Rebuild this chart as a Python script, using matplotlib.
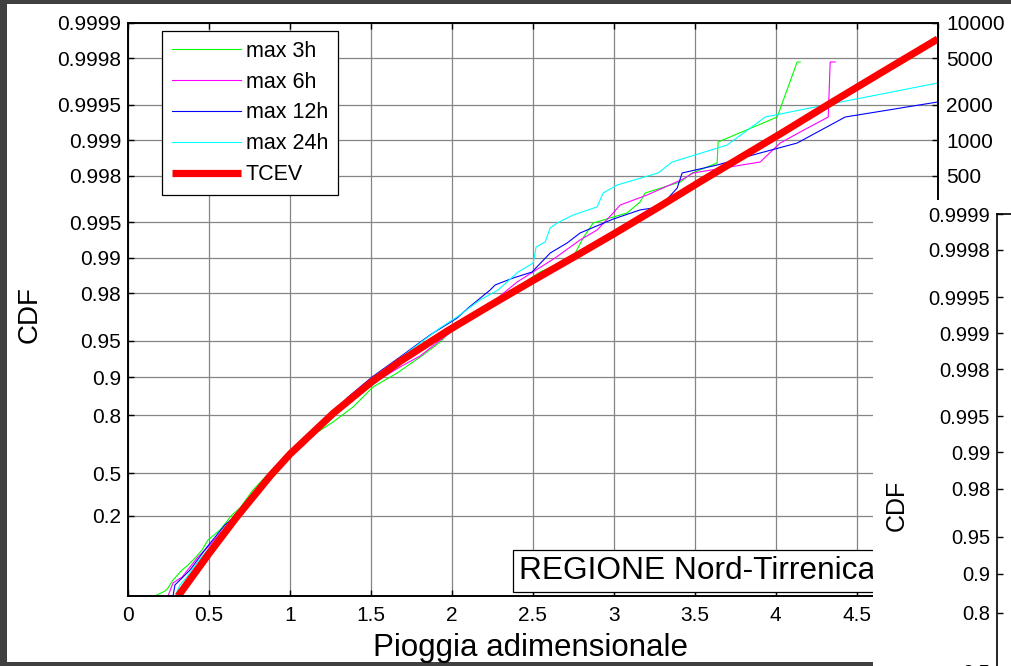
import numpy as np
import matplotlib.pyplot as plt
from matplotlib.patches import Rectangle

plt.rcParams['font.family'] = ['Liberation Sans', 'DejaVu Sans']

x_3h = [0.167, 0.229, 0.247, 0.278, 0.334, 0.371, 0.414, 0.457, 0.494, 0.568, 0.642, 0.692,
        0.772, 0.877, 0.982, 1.143, 1.266, 1.390, 1.513, 1.662, 1.822, 1.927, 2.001, 2.131,
        2.279, 2.403, 2.545, 2.749, 2.810, 2.872, 2.977, 3.082, 3.162, 3.193, 3.410, 3.484,
        3.638, 3.644, 4.009, 4.132, 4.151]
cdf_3h = [0.00043, 0.000892, 0.001334, 0.00349, 0.00956, 0.01482, 0.0254, 0.04333, 0.0759,
          0.1201, 0.2064, 0.2531, 0.3808, 0.5077, 0.6155, 0.7206, 0.7758, 0.8278, 0.8802,
          0.9076, 0.9342, 0.9487, 0.9592, 0.96945, 0.9758, 0.98226, 0.98676, 0.99013, 0.99319,
          0.99492, 0.9954, 0.99583, 0.99664, 0.99718, 0.99773, 0.998098, 0.998436, 0.998964,
          0.999366, 0.999785, 0.999785]

x_6h = [0.247, 0.278, 0.334, 0.383, 0.432, 0.506, 0.630, 0.692, 0.797, 0.889, 1.001, 1.143,
        1.266, 1.371, 1.556, 1.680, 1.804, 1.970, 2.193, 2.403, 2.637, 2.792, 2.897, 2.996,
        3.039, 3.206, 3.428, 3.490, 3.904, 4.027, 4.151, 4.324, 4.336, 4.367]
cdf_6h = [0.00043, 0.00247, 0.00483, 0.01248, 0.02732, 0.0583, 0.1635, 0.226, 0.3664, 0.5077,
          0.6271, 0.7343, 0.798, 0.8481, 0.8967, 0.9175, 0.933, 0.9551, 0.9723, 0.98392,
          0.98993, 0.99293, 0.99418, 0.99583, 0.99643, 0.99707, 0.997858, 0.998098, 0.998466,
          0.998943, 0.999149, 0.999366, 0.999785, 0.999785]

x_12h = [0.278, 0.290, 0.340, 0.383, 0.488, 0.599, 0.692, 0.797, 0.889, 1.001, 1.143, 1.266,
         1.353, 1.507, 1.680, 1.865, 2.032, 2.100, 2.236, 2.267, 2.378, 2.495, 2.607, 2.712,
         2.792, 2.996, 3.162, 3.286, 3.391, 3.422, 3.638, 3.904, 4.132, 4.429, 5.0]
cdf_12h = [0.00043, 0.00195, 0.00483, 0.00956, 0.0519, 0.1467, 0.226, 0.352, 0.5009, 0.6271,
           0.743, 0.8049, 0.8536, 0.9004, 0.9317, 0.9551, 0.9676, 0.9733, 0.98118, 0.98295,
           0.98511, 0.98676, 0.99086, 0.9925, 0.99383, 0.9953, 0.99607, 0.9963, 0.99744,
           0.998098, 0.998372, 0.998715, 0.998943, 0.999366, 0.999528]

x_24h = [0.290, 0.321, 0.364, 0.426, 0.506, 0.692, 0.797, 0.889, 1.001, 1.143, 1.266, 1.507,
         1.680, 1.804, 1.927, 2.032, 2.174, 2.285, 2.409, 2.502, 2.520, 2.576, 2.607, 2.650,
         2.749, 2.897, 2.934, 3.020, 3.274, 3.360, 3.700, 3.935, 4.151, 5.0]
cdf_24h = [0.00043, 0.00195, 0.00483, 0.0174, 0.0519, 0.226, 0.3591, 0.5009, 0.6271, 0.743,
           0.8049, 0.8986, 0.9303, 0.9477, 0.9608, 0.9683, 0.9772, 0.98118, 0.98676, 0.9889,
           0.99187, 0.99264, 0.9944, 0.99492, 0.99566, 0.9963, 0.99718, 0.99759, 0.998098,
           0.998466, 0.998901, 0.999366, 0.999448, 0.999675]

# fitted TCEV distribution
x_tcev = [0.31, 0.5, 0.67, 0.88, 1.0, 1.27, 1.5, 1.68, 1.97, 2.24, 2.5, 2.76, 3.0, 3.29,
          3.53, 3.78, 4.03, 4.34, 4.65, 5.0]
cdf_tcev = [0.00043, 0.0345, 0.1923, 0.4834, 0.6203, 0.8086, 0.8898, 0.9257, 0.9583, 0.9748,
            0.98436, 0.99023, 0.99372, 0.996376, 0.997729, 0.998587, 0.99912, 0.999519,
            0.999734, 0.999863]

cdf_ticks = [0.2, 0.5, 0.8, 0.9, 0.95, 0.98, 0.99, 0.995, 0.998, 0.999, 0.9995, 0.9998, 0.9999]
cdf_labels = ['0.2', '0.5', '0.8', '0.9', '0.95', '0.98', '0.99', '0.995', '0.998', '0.999',
              '0.9995', '0.9998', '0.9999']
return_periods = [500, 1000, 2000, 5000, 10000]
x_ticks = [0, 0.5, 1, 1.5, 2, 2.5, 3, 3.5, 4, 4.5, 5]
x_labels = ['0', '0.5', '1', '1.5', '2', '2.5', '3', '3.5', '4', '4.5', '5']

# second (overlapping) panel
cdf_ticks2 = [0.5, 0.8, 0.9, 0.95, 0.98, 0.99, 0.995, 0.998, 0.999, 0.9995, 0.9998, 0.9999]
cdf_labels2 = ['0.5', '0.8', '0.9', '0.95', '0.98', '0.99', '0.995', '0.998', '0.999',
               '0.9995', '0.9998', '0.9999']


def gumbel(p):
    p = np.clip(np.asarray(p, dtype=float), 1e-12, 1 - 1e-12)
    return -np.log(-np.log(p))


def gumbel_inv(y):
    return np.exp(-np.exp(-np.asarray(y, dtype=float)))


W, H = 1012, 666
fig = plt.figure(figsize=(W / 100, H / 100), dpi=100)
fig.patch.set_facecolor('#404040')
fig.add_artist(Rectangle((7 / W, 4 / H), 1 - 7 / W, (662 - 4) / H, transform=fig.transFigure,
                         fc='white', ec='none', zorder=-1))

ax = fig.add_axes([128 / W, (H - 596) / H, (937.7 - 128) / W, (596 - 23) / H])
ax.set_yscale('function', functions=(gumbel, gumbel_inv))

ax.plot(x_3h, cdf_3h, color='#00ff00', lw=0.8, label='max 3h')
ax.plot(x_6h, cdf_6h, color='#ff00ff', lw=0.8, label='max 6h')
ax.plot(x_12h, cdf_12h, color='#0000ff', lw=0.8, label='max 12h')
ax.plot(x_24h, cdf_24h, color='#00ffff', lw=0.8, label='max 24h')
ax.plot(x_tcev, cdf_tcev, color='#ff0000', lw=5.2, label='TCEV', solid_capstyle='butt')

ax.set_xlim(0, 5)
ax.set_ylim(0.00043, 0.9999)
ax.set_xticks(x_ticks)
ax.set_xticklabels(x_labels)
ax.set_yticks(cdf_ticks)
ax.set_yticklabels(cdf_labels)
ax.minorticks_off()
ax.grid(True, color='#858585', lw=0.9)
ax.tick_params(direction='in', length=4, width=1, top=True, right=False, labelsize=15)
ax.tick_params(axis='x', pad=7)
ax.tick_params(axis='y', pad=5)
for s in ax.spines.values():
    s.set_linewidth(1.2)

ax.set_xlabel('Pioggia adimensionale', fontsize=22.5, va='center')
ax.xaxis.set_label_coords(0.4975, -0.091)
ax.set_ylabel('CDF', fontsize=20, va='center')
ax.yaxis.set_label_coords(-0.121, 0.492)

leg = ax.legend(loc='upper left', bbox_to_anchor=(34 / 810, 1 - 8 / 573), borderaxespad=0,
                fontsize=15.5, fancybox=False, edgecolor='black', framealpha=1,
                handlelength=3.2, handletextpad=0.25, labelspacing=0.46, borderpad=0.45)
leg.get_frame().set_linewidth(0.9)

ax.text(519 / W, (H - 571) / H, 'REGIONE Nord-Tirrenica', transform=fig.transFigure,
        fontsize=22.8, ha='left', va='center',
        bbox=dict(boxstyle='square,pad=0.2', fc='white', ec='black', lw=0.9))

# return period axis on the right
axr = ax.twinx()
axr.set_yscale('function', functions=(gumbel, gumbel_inv))
axr.set_ylim(ax.get_ylim())
axr.set_yticks([1 - 1 / t for t in return_periods])
axr.set_yticklabels([str(t) for t in return_periods])
axr.minorticks_off()
axr.tick_params(direction='in', length=4, width=1, labelsize=15, pad=6)
for s in axr.spines.values():
    s.set_linewidth(1.2)

# overlapping second figure (white panel)
fig.add_artist(Rectangle((873 / W, 0), 1 - 873 / W, 466 / H, transform=fig.transFigure,
                         fc='white', ec='none', zorder=3))
ax3 = fig.add_axes([997 / W, -34 / H, 0.2, 486 / H], zorder=4)
ax3.set_yscale('function', functions=(gumbel, gumbel_inv))
ax3.set_ylim(0.30, 0.9999)
ax3.set_yticks(cdf_ticks2)
ax3.set_yticklabels(cdf_labels2)
ax3.minorticks_off()
ax3.set_xticks([])
ax3.tick_params(direction='in', length=4, width=1, labelsize=14.5, pad=5)
for s in ax3.spines.values():
    s.set_linewidth(1.2)
ax3.set_ylabel('CDF', fontsize=18, va='center')
ax3.yaxis.set_label_coords(-100 / (0.2 * W), (700 - 505) / 486)

fig.savefig('out.png', dpi=100, facecolor=fig.get_facecolor())
